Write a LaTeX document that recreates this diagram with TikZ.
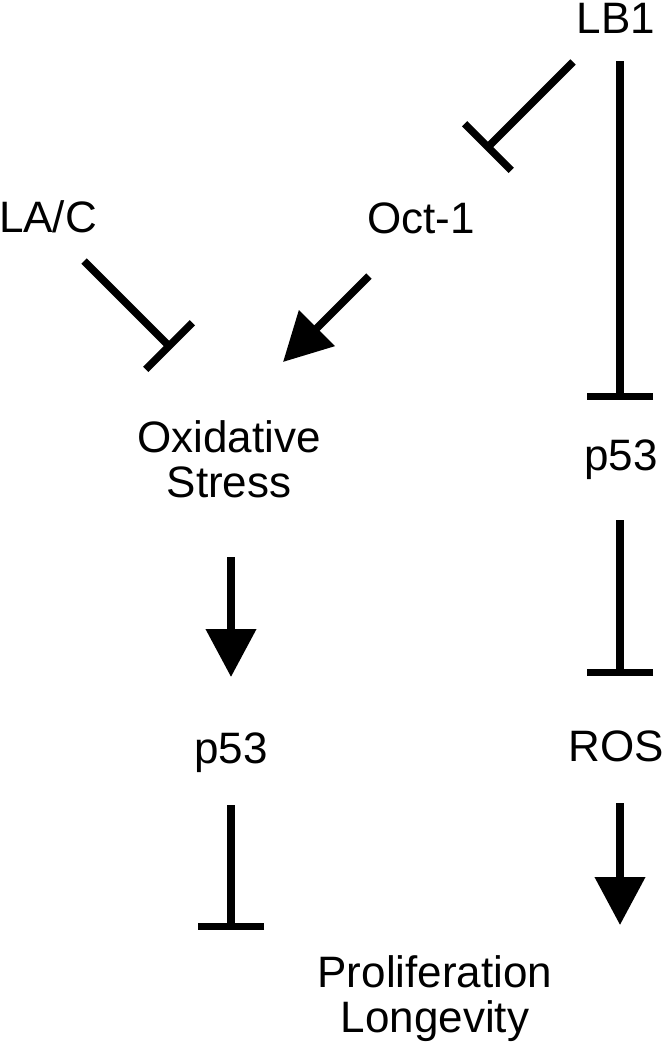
\documentclass[tikz,border=0pt]{standalone}
\usepackage{fontspec}
\setmainfont{Liberation Sans}
\usetikzlibrary{arrows.meta}
\tikzset{
    gene/.style={inner sep=0pt, align=center,
        font=\fontsize{44}{45}\selectfont}, % text labels
    activate/.style={line width=7.5pt, -{Triangle[length=48pt,width=49pt]}},
    inhibit/.style={line width=7.5pt, -{Bar[width=66pt]}},
    }

\begin{document}
\begin{tikzpicture}[x=1pt, y=-1pt]
    \useasboundingbox (0,0) rectangle (670,1050);
    % labels
    \node[gene, anchor=base] (lb1) at (616,33) {LB1};
    \node[gene, anchor=base] (lac) at (48,232) {LA/C};
    \node[gene, anchor=base] (oct) at (421,233) {Oct-1};
    \node[gene] (oxs) at (229,459) {Oxidative\\Stress};
    \node[gene, anchor=base] (p53r) at (621,470) {p53};
    \node[gene, anchor=base] (p53l) at (231,763) {p53};
    \node[gene, anchor=base] (ros) at (616,761) {ROS};
    \node[gene] (prolif) at (435,999) {Proliferation\\Longevity};
    % connector ends
    \coordinate (lb1-s) at (620,61);
    \coordinate (lb1-w) at (573,62);
    \coordinate (lac-o) at (84,261);
    \coordinate (oct-o) at (369,276);
    \coordinate (oxs-o) at (231,557);
    \coordinate (p53r-o) at (620,520);
    \coordinate (p53l-o) at (231,805);
    \coordinate (ros-o) at (620,803);
    \coordinate (oct-i) at (485.3,149.7);
    \coordinate (oxs-i1) at (171.7,348.7);
    \coordinate (oxs-i2) at (283,362);
    \coordinate (p53r-i) at (620,400);
    \coordinate (p53l-i) at (231,677);
    \coordinate (ros-i) at (620,676);
    \coordinate (prolif-i1) at (231,930);
    \coordinate (prolif-i2) at (620,925);
    % arrows
    \draw[inhibit] (lb1-w) -- (oct-i);
    \draw[inhibit] (lb1-s) -- (p53r-i);
    \draw[inhibit] (lac-o) -- (oxs-i1);
    \draw[activate] (oct-o) -- (oxs-i2);
    \draw[activate] (oxs-o) -- (p53l-i);
    \draw[inhibit] (p53r-o) -- (ros-i);
    \draw[inhibit] (p53l-o) -- (prolif-i1);
    \draw[activate] (ros-o) -- (prolif-i2);
\end{tikzpicture}
\end{document}
